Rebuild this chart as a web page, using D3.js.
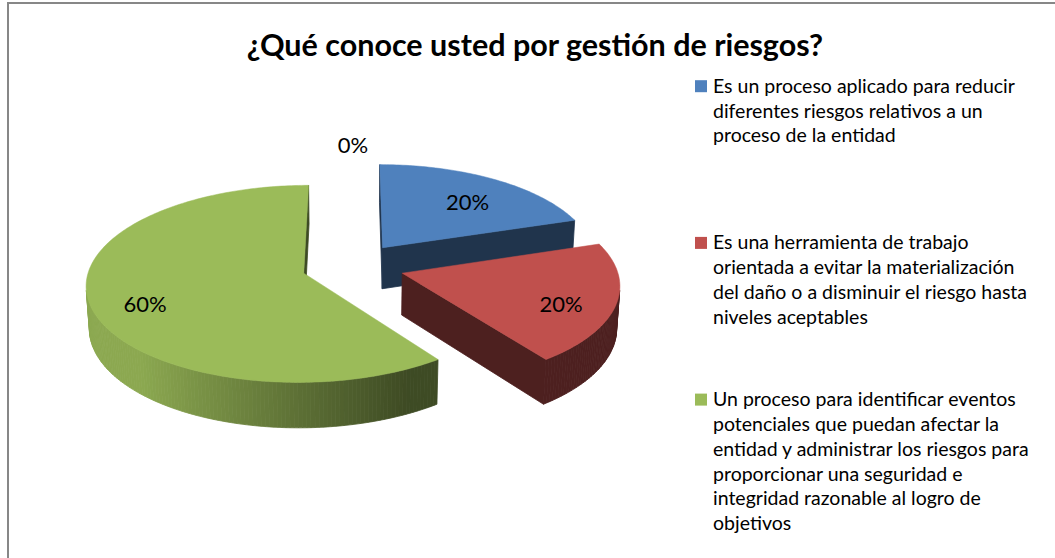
<!DOCTYPE html>
<html>
<head>
<meta charset="utf-8">
<script src="https://cdn.jsdelivr.net/npm/d3@7"></script>
<style>
  html, body { margin: 0; padding: 0; background: #fff; }
  svg { display: block; }
</style>
</head>
<body>
<svg id="chart" width="1055" height="558"></svg>
<script>
// ---- data ----
const chartTitle = "¿Qué conoce usted por gestión de riesgos?";
const categories = [
  "Es un proceso aplicado para reducir diferentes riesgos relativos a un proceso de la entidad",
  "Es una herramienta de trabajo orientada a evitar la materialización del daño o a disminuir el riesgo hasta niveles aceptables",
  "Un proceso para identificar eventos potenciales que puedan afectar la entidad y administrar los riesgos para proporcionar una seguridad e integridad razonable al logro de objetivos",
  ""
];
const values = [20, 20, 60, 0];
const sliceColors = ["#4F81BD", "#C0504D", "#9BBB59", "#8064A2"];
// legend text as it wraps in the legend box
const legendLines = [
  ["Es un proceso aplicado para reducir", "diferentes riesgos relativos a un", "proceso de la entidad"],
  ["Es una herramienta de trabajo", "orientada a evitar la materialización", "del daño o a disminuir el riesgo hasta", "niveles aceptables"],
  ["Un proceso para identificar eventos", "potenciales que puedan afectar la", "entidad y administrar los riesgos para", "proporcionar una seguridad e", "integridad razonable al logro de", "objetivos"]
];

// ---- layout ----
const svg = d3.select("#chart");
const FONT = "Lato, 'Open Sans', sans-serif";

// chart frame
svg.append("rect")
  .attr("x", 8).attr("y", 3)
  .attr("width", 1200).attr("height", 700)
  .attr("fill", "#fff")
  .attr("stroke", "#878787")
  .attr("stroke-width", 2);

// title
svg.append("text")
  .attr("x", 535).attr("y", 56)
  .attr("text-anchor", "middle")
  .attr("font-family", FONT)
  .attr("font-weight", 700)
  .attr("font-size", 30.5)
  .attr("fill", "#000")
  .text(chartTitle);

// ---- 3D pie projection ----
const center = { x: 353, y: 266 };           // screen position of pie centre (top face)
const radius = d3.scaleLinear().domain([0, 1]).range([0, 214]);
const tilt = 26.6 * Math.PI / 180;           // elevation of the view
const camDist = 8.3;                          // perspective distance, in radii
const explode = 0.24;                         // slice offset, in radii
const thickness = 0.22;                       // pie height, in radii
const sinT = Math.sin(tilt), cosT = Math.cos(tilt);

// u: right, v: away from viewer, w: up  (pie units)
function project(u, v, w) {
  const up = v * sinT + w * cosT;
  const depth = v * cosT - w * sinT;
  const s = camDist / (camDist + depth);
  return [center.x + radius(u) * s, center.y - radius(up) * s];
}

const pie = d3.pie().sort(null).value(i => values[i]).startAngle(0).endAngle(2 * Math.PI);
const arcs = pie(d3.range(values.length));

function shade(color, b) {
  const c = d3.rgb(color);
  return d3.rgb(c.r * b, c.g * b, c.b * b).formatHex();
}
function signedArea(pts) {
  let a = 0;
  for (let i = 0; i < pts.length; i++) {
    const p = pts[i], q = pts[(i + 1) % pts.length];
    a += p[0] * q[1] - q[0] * p[1];
  }
  return a / 2;
}
const poly = pts => d3.line()(pts) + "Z";

// build each slice's geometry
const slices = arcs.filter(a => a.value > 0).map(a => {
  const mid = (a.startAngle + a.endAngle) / 2;
  const ou = explode * Math.sin(mid), ov = explode * Math.cos(mid);
  const rim = (ang, w) => project(ou + Math.sin(ang), ov + Math.cos(ang), w);
  const apex = w => project(ou, ov, w);
  const n = Math.max(2, Math.ceil((a.endAngle - a.startAngle) / (Math.PI / 180)));
  const angs = d3.range(n + 1).map(k => a.startAngle + (a.endAngle - a.startAngle) * k / n);
  // nearest point to the viewer decides drawing order
  const nearest = d3.min([ov, ...angs.map(t => ov + Math.cos(t))], v => v * cosT);
  return { a, rim, apex, angs, nearest, color: sliceColors[a.index] };
});
slices.sort((p, q) => q.nearest - p.nearest);

const gPie = svg.append("g");
slices.forEach(sl => {
  const g = gPie.append("g");
  const { a, rim, apex, angs, color } = sl;
  const H = -thickness;
  const faces = [];

  // radial face at the start angle
  faces.push({ pts: [rim(a.startAngle, 0), rim(a.startAngle, H), apex(H), apex(0)], b: 0.4 });
  // radial face at the end angle
  faces.push({ pts: [apex(0), apex(H), rim(a.endAngle, H), rim(a.endAngle, 0)], b: 0.4 });
  // outer curved wall, lit from the left
  for (let k = 0; k < angs.length - 1; k++) {
    const t0 = angs[k], t1 = angs[k + 1], tm = (t0 + t1) / 2;
    const b = Math.max(0.4, Math.min(0.9, 0.6 - 0.44 * Math.sin(tm)));
    faces.push({ pts: [rim(t0, 0), rim(t1, 0), rim(t1, H), rim(t0, H)], b });
  }
  faces.filter(f => signedArea(f.pts) < 0).forEach(f => {
    const c = shade(color, f.b);
    g.append("path")
      .attr("d", poly(f.pts))
      .attr("fill", c)
      .attr("stroke", c)
      .attr("stroke-width", 0.8)
      .attr("stroke-linejoin", "round");
  });

  // top face
  const top = [apex(0), ...angs.map(t => rim(t, 0))];
  g.append("path")
    .attr("d", poly(top))
    .attr("fill", color)
    .attr("stroke", color)
    .attr("stroke-width", 0.5);
});

// percentage labels
const total = d3.sum(values);
const gLab = svg.append("g")
  .attr("font-family", FONT)
  .attr("font-size", 22)
  .attr("fill", "#000")
  .attr("text-anchor", "middle");
arcs.forEach(a => {
  const mid = (a.startAngle + a.endAngle) / 2;
  let p;
  if (a.value > 0) {
    const ou = explode * Math.sin(mid), ov = explode * Math.cos(mid);
    p = project(ou + 0.74 * Math.sin(mid), ov + 0.74 * Math.cos(mid) - 0.08, 0);
  } else {
    p = project(1.46 * Math.sin(mid), 1.46 * Math.cos(mid), 0);
  }
  gLab.append("text")
    .attr("x", p[0]).attr("y", p[1])
    .attr("dy", "0.35em")
    .text(Math.round(a.value / total * 100) + "%");
});

// legend
const legendX = 695, legendTextX = 713, legendTop = 92.7, legendStep = 156.7, lineH = 24.8;
const gLeg = svg.append("g").attr("font-family", FONT).attr("font-size", 19.5).attr("fill", "#000");
categories.forEach((name, i) => {
  if (!name) return;
  const y0 = legendTop + i * legendStep;
  gLeg.append("rect")
    .attr("x", legendX).attr("y", y0 - 12.5)
    .attr("width", 12).attr("height", 12)
    .attr("fill", sliceColors[i]);
  legendLines[i].forEach((line, j) => {
    gLeg.append("text")
      .attr("x", legendTextX)
      .attr("y", y0 + j * lineH)
      .text(line);
  });
});
</script>
</body>
</html>
